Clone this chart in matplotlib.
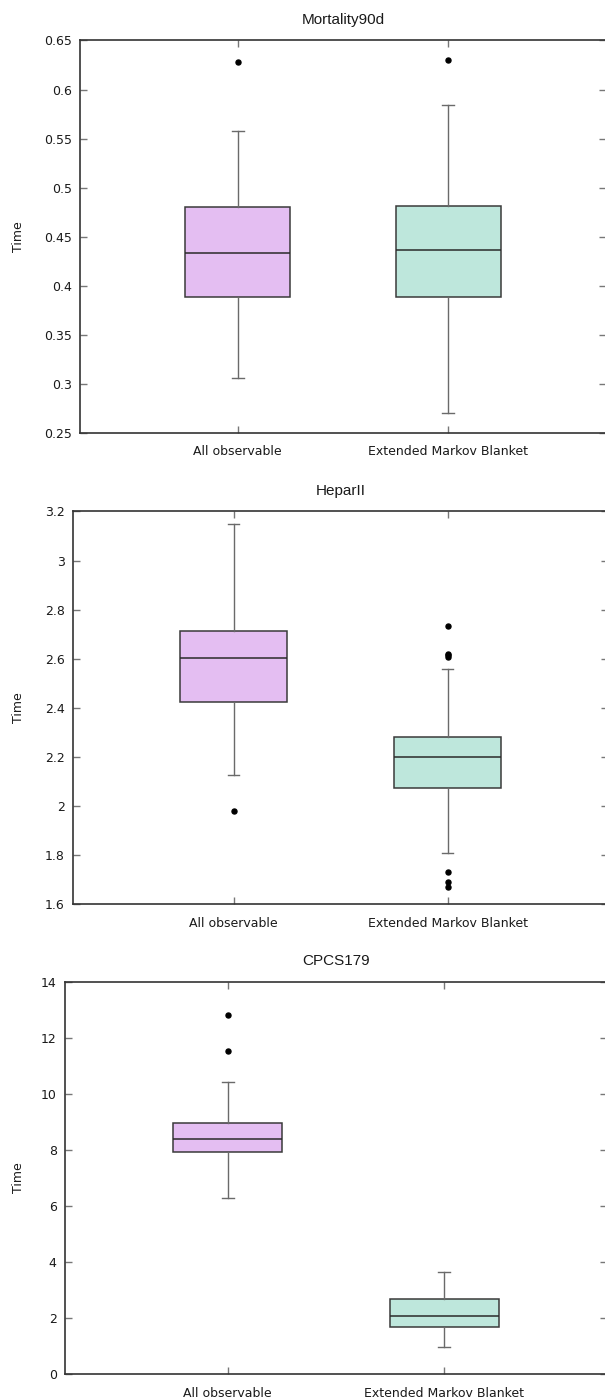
import matplotlib
matplotlib.use("Agg")
import matplotlib.pyplot as plt
import matplotlib.transforms as mtransforms

# Run-time summaries per network: quartiles, whisker ends and outliers
categories = ["All observable", "Extended Markov Blanket"]
titles = ["Mortality90d", "HeparII", "CPCS179"]

mort_q1 = [0.3889, 0.3889]
mort_med = [0.4334, 0.4364]
mort_q3 = [0.4800, 0.4813]
mort_lo = [0.3056, 0.2704]
mort_hi = [0.5577, 0.5842]
mort_out = [[0.628], [0.6296]]

hepar_q1 = [2.422, 2.071]
hepar_med = [2.601, 2.201]
hepar_q3 = [2.714, 2.281]
hepar_lo = [2.126, 1.806]
hepar_hi = [3.148, 2.556]
hepar_out = [[1.978], [2.734, 2.621, 2.613, 2.606, 1.730, 1.690, 1.668]]

cpcs_q1 = [7.92, 1.70]
cpcs_med = [8.39, 2.08]
cpcs_q3 = [8.97, 2.70]
cpcs_lo = [6.29, 0.97]
cpcs_hi = [10.44, 3.66]
cpcs_out = [[12.81, 11.53], []]

ylims = [(0.25, 0.65), (1.6, 3.2), (0, 14)]
yticks = [
    [0.25, 0.3, 0.35, 0.4, 0.45, 0.5, 0.55, 0.6, 0.65],
    [1.6, 1.8, 2.0, 2.2, 2.4, 2.6, 2.8, 3.0, 3.2],
    [0, 2, 4, 6, 8, 10, 12, 14],
]
ytick_labels = [
    ["0.25", "0.3", "0.35", "0.4", "0.45", "0.5", "0.55", "0.6", "0.65"],
    ["1.6", "1.8", "2", "2.2", "2.4", "2.6", "2.8", "3", "3.2"],
    ["0", "2", "4", "6", "8", "10", "12", "14"],
]

fill_colors = ["#e4bef2", "#bee7dc"]

panels = [
    (mort_q1, mort_med, mort_q3, mort_lo, mort_hi, mort_out),
    (hepar_q1, hepar_med, hepar_q3, hepar_lo, hepar_hi, hepar_out),
    (cpcs_q1, cpcs_med, cpcs_q3, cpcs_lo, cpcs_hi, cpcs_out),
]

# axes rectangles in figure fraction (left, bottom, width, height)
rects = [
    (0.1322, 0.6905, 0.8694, 0.2806),
    (0.1207, 0.3538, 0.8843, 0.2806),
    (0.1074, 0.0177, 0.8959, 0.2806),
]

plt.rcParams["font.family"] = "DejaVu Sans"

fig = plt.figure(figsize=(6.05, 13.99), dpi=100)

for i, (q1, med, q3, lo, hi, out) in enumerate(panels):
    ax = fig.add_axes(rects[i])
    stats = []
    for j in range(len(categories)):
        stats.append({
            "med": med[j], "q1": q1[j], "q3": q3[j],
            "whislo": lo[j], "whishi": hi[j],
            "fliers": out[j], "label": categories[j],
        })
    bp = ax.bxp(
        stats, positions=[1, 2], widths=0.5, capwidths=0.055,
        patch_artist=True, showfliers=True,
        boxprops=dict(edgecolor="#3a3a3a", linewidth=1.1),
        medianprops=dict(color="#2a2a2a", linewidth=1.1),
        whiskerprops=dict(color="#6a6a6a", linewidth=1.0),
        capprops=dict(color="#6a6a6a", linewidth=1.0),
        flierprops=dict(marker="o", markerfacecolor="black",
                        markeredgecolor="black", markersize=3.6),
    )
    for patch, c in zip(bp["boxes"], fill_colors):
        patch.set_facecolor(c)

    ax.set_xlim(0.25, 2.75)
    ax.set_ylim(*ylims[i])
    ax.set_yticks(yticks[i])
    ax.set_yticklabels(ytick_labels[i])
    ax.set_xticks([1, 2])
    ax.set_xticklabels(categories)

    ax.tick_params(axis="both", direction="in", length=5, width=1,
                   color="#777777", labelsize=9, labelcolor="#1a1a1a")
    ax.tick_params(axis="y", right=True, pad=6)
    ax.tick_params(axis="x", top=True, pad=9)
    for sp in ax.spines.values():
        sp.set_color("#333333")
        sp.set_linewidth(1.2)

    ax.set_title(titles[i], fontsize=11, family="Liberation Sans",
                 color="#1a1a1a", pad=12)
    ax.set_ylabel("Time", fontsize=9, color="#1a1a1a")
    trans = mtransforms.blended_transform_factory(fig.transFigure, ax.transAxes)
    ax.yaxis.set_label_coords(25 / 605, 0.5, transform=trans)

fig.savefig("out.png", dpi=100)
